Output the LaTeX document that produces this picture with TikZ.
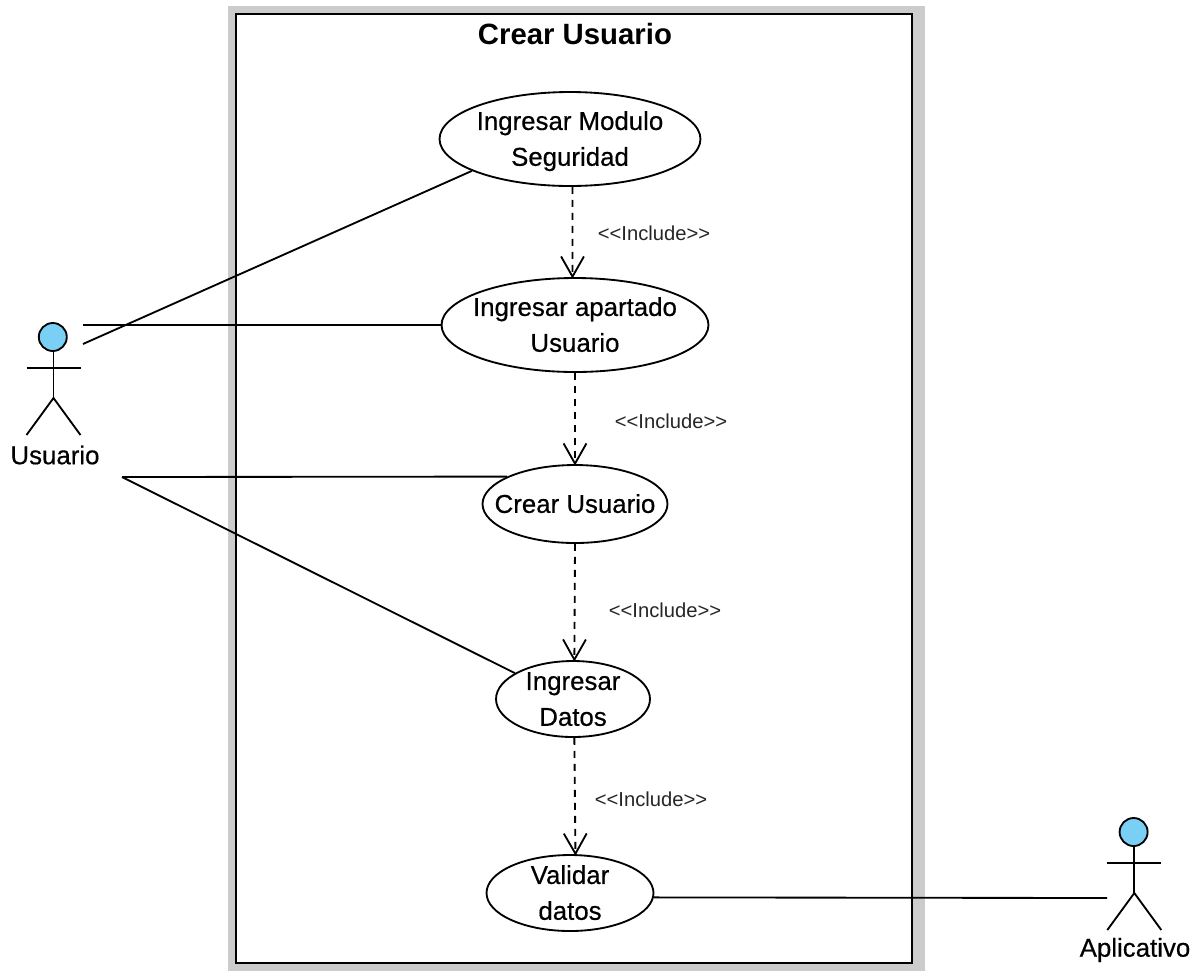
\documentclass[tikz,border=0pt]{standalone}
\usepackage{fontspec}
\setmainfont{Liberation Sans}
\newfontfamily\ucfont[FakeBold=0.5]{Liberation Sans}
\usetikzlibrary{arrows.meta, shapes.geometric}
\definecolor{uc_gray}{RGB}{204, 204, 204}
\definecolor{uc_head}{RGB}{122, 207, 245}
% texte sans effet sur la taille de l'ellipse
\newcommand{\uctext}[1]{\makebox[0pt]{\smash{\raisebox{-0.31em}{\begin{tabular}[c]{@{}c@{}}#1\end{tabular}}}}}
\tikzset{
  usecase/.style={draw, ellipse, fill=white, line width=1.05pt, inner sep=0pt, font=\ucfont\fontsize{14.7}{20.4}\selectfont},
  assoc/.style={line width=1.05pt},
  include/.style={line width=1.05pt, dash pattern=on 4pt off 3.4pt, shorten >=-0.8pt, -{Straight Barb[length=11.5pt, width=13pt, line width=1.05pt]}},
  inclabel/.style={font=\fontsize{11.5}{13}\selectfont, text=black!85},
  actorlabel/.style={font=\ucfont\fontsize{14.7}{16}\selectfont},
  actorfig/.pic={
    \draw[line width=1.05pt, fill=uc_head] (-0.7,0) circle (0.28cm);
    \draw[line width=1.05pt] (0,14) -- (0,61);
    \draw[line width=1.05pt] (-27,31) -- (27,31);
    \draw[line width=1.05pt] (-27,98) -- (0,61) -- (27,98);
  }
}

\begin{document}
\begin{tikzpicture}[x=0.02cm, y=-0.02cm]
  \useasboundingbox (0,0) rectangle (1199,971);
  % Cadre du systeme
  \fill[uc_gray] (228,6) rectangle (925,971);
  \draw[line width=1.05pt, fill=white] (236,14) rectangle (912,963);
  \node[font=\bfseries\fontsize{16.7}{19}\selectfont] (title) at (575,34) {Crear Usuario};
  % Cas d'utilisation
  \node[usecase, minimum width=5.22cm, minimum height=1.88cm] (modulo) at (570,139) {\uctext{Ingresar Modulo\\Seguridad}};
  \node[usecase, minimum width=5.34cm, minimum height=1.88cm] (apartado) at (575,325) {\uctext{Ingresar apartado\\Usuario}};
  \node[usecase, minimum width=3.70cm, minimum height=1.56cm] (crear) at (575,504) {\uctext{Crear Usuario}};
  \node[usecase, minimum width=3.08cm, minimum height=1.52cm] (datos) at (573,699) {\uctext{Ingresar\\Datos}};
  \node[usecase, minimum width=3.34cm, minimum height=1.52cm] (validar) at (570,893) {\uctext{Validar\\datos}};
  % Acteurs
  \pic at (53.5,337) {actorfig};
  \node[actorlabel] (usuario) at (55,455) {Usuario};
  \pic at (1134.3,832) {actorfig};
  \node[actorlabel] (aplicativo) at (1135,950) {Aplicativo};
  \coordinate (usuarioA) at (83,344);
  \coordinate (usuarioB) at (83,325);
  \coordinate (usuarioC) at (122,477);
  \coordinate (aplicativoA) at (1107,898);
  % Associations
  \draw[assoc] (usuarioA) -- (modulo.198.6);
  \draw[assoc] (usuarioB) -- (apartado.180);
  \draw[assoc] (usuarioC) -- (crear.158);
  \draw[assoc] (usuarioC) -- (datos.156);
  \draw[assoc] (validar.-3.4) -- (aplicativoA);
  % Inclusions (tirets)
  \draw[include] (modulo.-87) -- (apartado.93);
  \draw[include] (apartado.south) -- (crear.north);
  \draw[include] (crear.south) -- (datos.88);
  \draw[include] (datos.-88) -- (validar.82.5);
  \node[inclabel] (incA) at (654,233) {<{}<Include>{}>};
  \node[inclabel] (incB) at (671,421) {<{}<Include>{}>};
  \node[inclabel] (incC) at (665,610) {<{}<Include>{}>};
  \node[inclabel] (incD) at (651,799) {<{}<Include>{}>};
\end{tikzpicture}
\end{document}
